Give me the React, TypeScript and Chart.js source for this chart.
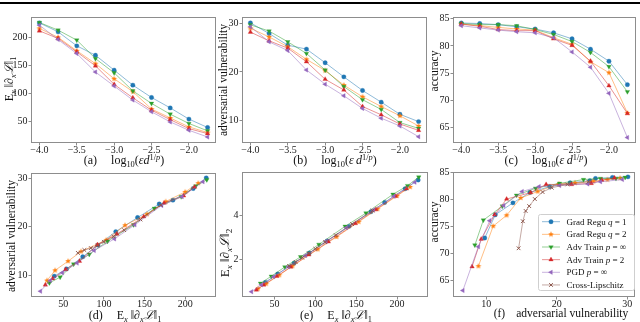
import React, { useEffect, useRef } from 'react';
import { Chart, registerables } from 'chart.js';
import { drawPoint } from 'chart.js/helpers';
Chart.register(...registerables);

// ---------------- data ----------------
const EPS = [-4.0, -3.75, -3.5, -3.25, -3.0, -2.75, -2.5, -2.25, -2.0, -1.75];

// E_x ||d_x L||_1
const L1_GRAD1 = [225.8, 209.8, 184.8, 168.0, 141.4, 114.6, 92.6, 74.0, 54.0, 39.0];
const L1_GRAD2 = [216.0, 200.0, 176.0, 153.0, 126.0, 103.0, 72.0, 56.0, 40.0, 30.0];
const L1_ADVINF = [226.5, 212.8, 195.0, 162.0, 136.5, 104.4, 82.0, 62.8, 46.2, 33.0];
const L1_ADV2 = [211.5, 198.0, 174.0, 149.0, 116.0, 92.0, 70.0, 53.0, 37.0, 28.0];
const L1_PGD = [221.7, 196.0, 171.0, 138.0, 113.0, 88.0, 67.0, 49.0, 34.0, 22.0];
const L1_CROSS = [68.0, 76.0, 84.0, 92.0, 100.0, 112.0, 125.0, 145.0, 170.0];

// adversarial vulnerability
const VU_GRAD1 = [30.1, 27.9, 25.5, 24.7, 21.9, 19.0, 16.2, 13.8, 11.3, 9.8];
const VU_GRAD2 = [29.0, 27.2, 25.2, 22.6, 20.3, 17.3, 14.9, 12.9, 11.0, 8.9];
const VU_ADVINF = [29.7, 28.4, 26.2, 23.8, 20.4, 17.0, 14.3, 12.3, 9.6, 8.4];
const VU_ADV2 = [28.2, 26.4, 24.9, 22.1, 18.5, 16.3, 12.9, 11.2, 9.3, 8.0];
const VU_PGD = [29.3, 26.2, 24.4, 20.4, 17.5, 15.1, 12.5, 10.5, 8.9, 6.7];
const VU_CROSS = [14.6, 15.2, 15.6, 16.1, 16.9, 18.0, 19.3, 21.5, 24.5];

// accuracy
const AC_GRAD1 = [84.2, 84.1, 83.9, 83.5, 83.1, 82.4, 81.3, 79.4, 77.2, 72.9];
const AC_GRAD2 = [84.0, 83.7, 83.4, 83.1, 82.9, 81.5, 80.3, 77.1, 75.1, 67.7];
const AC_ADVINF = [84.1, 83.9, 83.9, 83.7, 83.0, 82.1, 80.8, 78.8, 76.2, 71.6];
const AC_ADV2 = [84.0, 83.6, 83.0, 82.8, 82.8, 81.3, 80.1, 77.2, 72.7, 67.6];
const AC_PGD = [83.7, 83.3, 82.9, 82.6, 82.4, 81.5, 78.9, 76.1, 71.3, 63.2];
const AC_CROSS = [71.0, 76.0, 77.9, 78.8, 80.1, 81.4, 82.2, 82.8, 83.3];

// E_x ||d_x L||_2
const L2_GRAD1 = [5.60, 5.20, 4.58, 4.16, 3.50, 2.84, 2.29, 1.83, 1.34, 0.96];
const L2_GRAD2 = [5.28, 4.88, 4.28, 3.70, 3.02, 2.46, 1.70, 1.29, 0.90, 0.68];
const L2_ADVINF = [5.73, 5.34, 4.95, 4.10, 3.50, 2.68, 2.12, 1.66, 1.24, 0.92];
const L2_ADV2 = [5.20, 4.86, 4.26, 3.63, 2.80, 2.21, 1.66, 1.24, 0.85, 0.62];
const L2_PGD = [5.50, 4.86, 4.24, 3.44, 2.82, 2.18, 1.67, 1.22, 0.85, 0.54];
const L2_CROSS = [1.70, 1.89, 2.08, 2.27, 2.48, 2.78, 3.10, 3.60, 4.22];

// tick values
const EPS_TICKS = [-4.0, -3.5, -3.0, -2.5, -2.0];
const GRAD_TICKS = [50, 100, 150, 200];
const VULN_TICKS = [10, 20, 30];
const ACC_TICKS = [65, 70, 75, 80, 85];
const L2_TICKS = [2, 4];

// ---------------- styling ----------------
const W = 640;
const H = 322;
const WY = 26; // y-axis box width
const HX = 20; // x-axis box height
const FONT = "'Liberation Serif', 'DejaVu Serif', serif";
const SPINE = '#8d8d8d';

type SeriesStyle = { key: string; color: string; line: string; style: any; rot: number; r: number };

function starCanvas(color: string, r: number) {
  const c = document.createElement('canvas');
  const s = Math.ceil(r * 2 + 2);
  c.width = s;
  c.height = s;
  const ctx = c.getContext('2d')!;
  ctx.fillStyle = color;
  ctx.beginPath();
  for (let i = 0; i < 10; i++) {
    const ang = -Math.PI / 2 + (i * Math.PI) / 5;
    const rr = i % 2 === 0 ? r : r * 0.45;
    ctx.lineTo(s / 2 + rr * Math.cos(ang), s / 2 + rr * Math.sin(ang));
  }
  ctx.closePath();
  ctx.fill();
  return c;
}

function makeStyles(): SeriesStyle[] {
  return [
    { key: 'grad1', color: '#1f77b4', line: 'rgba(31,119,180,0.5)', style: 'circle', rot: 0, r: 2.2 },
    { key: 'grad2', color: '#ff7f0e', line: 'rgba(255,127,14,0.5)', style: starCanvas('#ff7f0e', 3.0), rot: 0, r: 3.0 },
    { key: 'advinf', color: '#2ca02c', line: 'rgba(44,160,44,0.5)', style: 'triangle', rot: 180, r: 2.6 },
    { key: 'adv2', color: '#d62728', line: 'rgba(214,39,40,0.5)', style: 'triangle', rot: 0, r: 2.6 },
    { key: 'pgd', color: '#9467bd', line: 'rgba(148,103,189,0.5)', style: 'triangle', rot: 270, r: 2.6 },
    { key: 'cross', color: '#8c564b', line: 'rgba(140,86,75,0.5)', style: 'crossRot', rot: 0, r: 2.6 },
  ];
}

function ds(st: SeriesStyle, xs: number[], ys: number[], idx: number) {
  return {
    label: st.key,
    data: xs.map((x, i) => ({ x, y: ys[i] })),
    showLine: true,
    borderColor: st.line,
    borderWidth: 1,
    pointStyle: st.style,
    rotation: st.rot,
    pointRadius: st.r,
    pointBackgroundColor: st.color,
    pointBorderColor: st.color,
    pointBorderWidth: st.style === 'crossRot' ? 1.0 : 0.3,
    order: 10 - idx,
  };
}

const boxPlugin = {
  id: 'boxPlugin',
  afterDraw(chart: any) {
    const { ctx, chartArea } = chart;
    const { left, top, right, bottom } = chartArea;
    ctx.save();
    ctx.strokeStyle = SPINE;
    ctx.lineWidth = 1;
    ctx.strokeRect(Math.round(left) + 0.5, Math.round(top) + 0.5, Math.round(right - left) - 1, Math.round(bottom - top) - 1);
    ctx.restore();
  },
};

type Seg = { t: string; it?: boolean };
const LEGEND_ROWS: Seg[][] = [
  [{ t: 'Grad Regu ' }, { t: 'q', it: true }, { t: ' = 1' }],
  [{ t: 'Grad Regu ' }, { t: 'q', it: true }, { t: ' = 2' }],
  [{ t: 'Adv Train ' }, { t: 'p', it: true }, { t: ' = \u221E' }],
  [{ t: 'Adv Train ' }, { t: 'p', it: true }, { t: ' = 2' }],
  [{ t: 'PGD ' }, { t: 'p', it: true }, { t: ' = \u221E' }],
  [{ t: 'Cross-Lipschitz' }],
];

function legendPlugin(styles: SeriesStyle[]) {
  return {
    id: 'legendPlugin',
    afterDraw(chart: any) {
      const ctx = chart.ctx as CanvasRenderingContext2D;
      const bx = 538.5, by = 214.5, bw = 96, bh = 76;
      ctx.save();
      ctx.beginPath();
      const rad = 2;
      ctx.moveTo(bx + rad, by);
      ctx.lineTo(bx + bw - rad, by);
      ctx.quadraticCurveTo(bx + bw, by, bx + bw, by + rad);
      ctx.lineTo(bx + bw, by + bh - rad);
      ctx.quadraticCurveTo(bx + bw, by + bh, bx + bw - rad, by + bh);
      ctx.lineTo(bx + rad, by + bh);
      ctx.quadraticCurveTo(bx, by + bh, bx, by + bh - rad);
      ctx.lineTo(bx, by + rad);
      ctx.quadraticCurveTo(bx, by, bx + rad, by);
      ctx.closePath();
      ctx.fillStyle = 'rgba(255,255,255,0.9)';
      ctx.fill();
      ctx.strokeStyle = '#cfcfcf';
      ctx.lineWidth = 1;
      ctx.stroke();
      styles.forEach((st, i) => {
        const y = 221.7 + i * 12.65;
        ctx.strokeStyle = st.line;
        ctx.lineWidth = 1;
        ctx.beginPath();
        ctx.moveTo(542, y);
        ctx.lineTo(560, y);
        ctx.stroke();
        ctx.fillStyle = st.color;
        ctx.strokeStyle = st.color;
        ctx.lineWidth = st.style === 'crossRot' ? 1.0 : 0.3;
        drawPoint(ctx, { pointStyle: st.style, rotation: st.rot, radius: st.r, borderWidth: ctx.lineWidth }, 551, y);
        let x = 566.5;
        ctx.fillStyle = '#111';
        ctx.textBaseline = 'middle';
        LEGEND_ROWS[i].forEach((seg) => {
          ctx.font = `${seg.it ? 'italic ' : ''}9px ${FONT}`;
          ctx.fillText(seg.t, x, y + 0.5);
          x += ctx.measureText(seg.t).width;
        });
      });
      ctx.restore();
    },
  };
}

type PanelDef = {
  l: number; t: number; r: number; b: number;
  xMin: number; xMax: number; yMin: number; yMax: number;
  xTicks: number[]; yTicks: number[];
  xFmt: (v: number) => string;
  datasets: any[];
  legend?: boolean;
};

function scaleOpts(min: number, max: number, ticks: number[], fmt: (v: number) => string, horizontal: boolean) {
  return {
    type: 'linear',
    min,
    max,
    afterFit: (s: any) => {
      if (horizontal) s.height = HX;
      else s.width = WY;
    },
    afterBuildTicks: (s: any) => {
      s.ticks = ticks.map((v) => ({ value: v }));
    },
    ticks: {
      font: { family: FONT, size: 10 },
      color: '#222',
      padding: horizontal ? -1 : 1,
      autoSkip: false,
      maxRotation: 0,
      callback: (v: any) => fmt(Number(v)),
    },
    grid: { drawOnChartArea: false, tickLength: 2.5, tickColor: SPINE, color: SPINE },
    border: { display: false },
  };
}

const epsFmt = (v: number) => v.toFixed(1).replace('-', '\u2212');
const intFmt = (v: number) => String(Math.round(v));

function buildConfig(p: PanelDef, styles: SeriesStyle[]) {
  const plugins: any[] = [boxPlugin];
  if (p.legend) plugins.push(legendPlugin(styles));
  return {
    type: 'scatter',
    data: { datasets: p.datasets },
    options: {
      responsive: false,
      animation: false,
      devicePixelRatio: 1,
      layout: { padding: { left: p.l - WY, top: p.t, right: W - p.r, bottom: H - p.b - HX } },
      plugins: { legend: { display: false }, tooltip: { enabled: false } },
      scales: {
        x: scaleOpts(p.xMin, p.xMax, p.xTicks, p.xFmt, true),
        y: scaleOpts(p.yMin, p.yMax, p.yTicks, intFmt, false),
      },
    },
    plugins,
  };
}

function panels(S: SeriesStyle[]): PanelDef[] {
  const L1 = [L1_GRAD1, L1_GRAD2, L1_ADVINF, L1_ADV2, L1_PGD];
  const VU = [VU_GRAD1, VU_GRAD2, VU_ADVINF, VU_ADV2, VU_PGD];
  const AC = [AC_GRAD1, AC_GRAD2, AC_ADVINF, AC_ADV2, AC_PGD];
  const L2 = [L2_GRAD1, L2_GRAD2, L2_ADVINF, L2_ADV2, L2_PGD];
  const five = (xs: (i: number) => number[], ys: number[][]) => ys.map((y, i) => ds(S[i], xs(i), y, i));
  const epsRange = { xMin: -4.1125, xMax: -1.6375, xTicks: EPS_TICKS, xFmt: epsFmt };
  return [
    { l: 31, t: 17, r: 216, b: 143, ...epsRange, yMin: 11.3, yMax: 236.3, yTicks: GRAD_TICKS, datasets: five(() => EPS, L1) },
    { l: 242, t: 17, r: 427, b: 143, ...epsRange, yMin: 5.4, yMax: 31.3, yTicks: VULN_TICKS, datasets: five(() => EPS, VU) },
    { l: 453, t: 17, r: 638, b: 143, ...epsRange, yMin: 62.2, yMax: 85.3, yTicks: ACC_TICKS, datasets: five(() => EPS, AC) },
    {
      l: 31, t: 173, r: 216, b: 297, xMin: 10.4, xMax: 237.8, yMin: 5.5, yMax: 31.1, xTicks: GRAD_TICKS, yTicks: VULN_TICKS, xFmt: intFmt,
      datasets: [...five((i) => L1[i], VU), ds(S[5], L1_CROSS, VU_CROSS, 5)],
    },
    {
      l: 242, t: 172, r: 428, b: 297, xMin: 10.4, xMax: 237.8, yMin: 0.3, yMax: 5.96, xTicks: GRAD_TICKS, yTicks: L2_TICKS, xFmt: intFmt,
      datasets: [...five((i) => L1[i], L2), ds(S[5], L1_CROSS, L2_CROSS, 5)],
    },
    {
      l: 453, t: 172, r: 638, b: 297, xMin: 5.3, xMax: 31.1, yMin: 62.0, yMax: 85.1, xTicks: VULN_TICKS, yTicks: ACC_TICKS, xFmt: intFmt,
      datasets: [...five((i) => VU[i], AC), ds(S[5], VU_CROSS, AC_CROSS, 5)], legend: true,
    },
  ];
}

// ---------------- text labels ----------------
const subS: React.CSSProperties = { fontSize: '0.7em', verticalAlign: '-0.35em', lineHeight: 0 };
const supS: React.CSSProperties = { fontSize: '0.7em', verticalAlign: '0.5em', lineHeight: 0 };

const LogLabel = ({ gap }: { gap?: boolean }) => (
  <span>
    log<span style={subS}>10</span>(<i>&epsilon;</i>{gap ? '\u2009' : ''}<i>d</i>
    <span style={supS}>1/<i>p</i></span>)
  </span>
);
const GradLabel = ({ n }: { n: string }) => (
  <span>
    E<span style={subS}><i>x</i></span>&nbsp;&#8214;&part;<span style={subS}><i>x</i></span><i>&#8466;</i>&#8214;
    <span style={subS}>{n}</span>
  </span>
);

function XTitle({ cx, cy, tag, children, size = 12, gap = 14 }: any) {
  return (
    <div style={{ position: 'absolute', left: cx, top: cy, transform: 'translate(-50%,-50%)', whiteSpace: 'nowrap', fontSize: size, fontFamily: FONT, color: '#111', lineHeight: 1 }}>
      <span>{tag}</span>
      <span style={{ display: 'inline-block', width: gap }} />
      {children}
    </div>
  );
}
function YTitle({ cx, cy, children, size = 11.5 }: any) {
  return (
    <div style={{ position: 'absolute', left: cx, top: cy, transform: 'translate(-50%,-50%) rotate(-90deg)', whiteSpace: 'nowrap', fontSize: size, fontFamily: FONT, color: '#111', lineHeight: 1 }}>
      {children}
    </div>
  );
}

export default function App() {
  const r0 = useRef<HTMLCanvasElement>(null);
  const r1 = useRef<HTMLCanvasElement>(null);
  const r2 = useRef<HTMLCanvasElement>(null);
  const r3 = useRef<HTMLCanvasElement>(null);
  const r4 = useRef<HTMLCanvasElement>(null);
  const r5 = useRef<HTMLCanvasElement>(null);
  const refs = [r0, r1, r2, r3, r4, r5];

  useEffect(() => {
    const S = makeStyles();
    const defs = panels(S);
    const charts = defs.map((p, i) => new Chart(refs[i].current as HTMLCanvasElement, buildConfig(p, S) as any));
    return () => charts.forEach((c) => c.destroy());
  }, []);

  return (
    <div style={{ position: 'fixed', left: 0, top: 0, width: W, height: H, background: '#fff', overflow: 'hidden' }}>
      <div style={{ position: 'absolute', left: 0, top: 2, width: W, height: 2, background: '#000' }} />
      {refs.map((r, i) => (
        <canvas key={i} ref={r} width={W} height={H} style={{ position: 'absolute', left: 0, top: 0, width: W, height: H }} />
      ))}
      <YTitle cx={9} cy={79} size={12}><GradLabel n="1" /></YTitle>
      <YTitle cx={224} cy={80}>adversarial vulnerability</YTitle>
      <YTitle cx={435} cy={71}>accuracy</YTitle>
      <YTitle cx={12} cy={236}>adversarial vulnerability</YTitle>
      <YTitle cx={224} cy={253} size={13}><GradLabel n="2" /></YTitle>
      <YTitle cx={435} cy={222}>accuracy</YTitle>

      <XTitle cx={124} cy={160} tag="(a)"><LogLabel /></XTitle>
      <XTitle cx={335} cy={160} tag="(b)"><LogLabel gap /></XTitle>
      <XTitle cx={546} cy={160} tag="(c)"><LogLabel gap /></XTitle>
      <XTitle cx={125} cy={315} tag="(d)"><GradLabel n="1" /></XTitle>
      <XTitle cx={336} cy={315} tag="(e)"><GradLabel n="1" /></XTitle>
      <XTitle cx={561} cy={314} tag="(f)" gap={11} size={11.5}>adversarial vulnerability</XTitle>
    </div>
  );
}
